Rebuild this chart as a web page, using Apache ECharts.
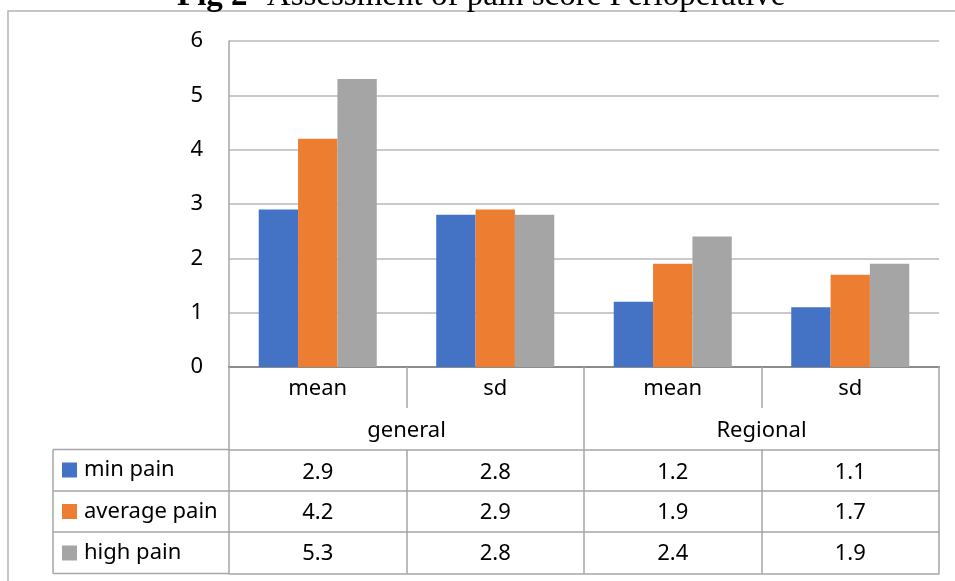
<!DOCTYPE html>
<html><head><meta charset="utf-8">
<script src="https://cdn.jsdelivr.net/npm/echarts@6/dist/echarts.min.js"></script>
<style>html,body{margin:0;padding:0;background:#fff}#c{width:955px;height:581px}</style>
</head><body><div id="c"></div>
<script>
const categories = ['mean', 'sd', 'mean', 'sd'];
const groups = ['general', 'Regional'];
const seriesNames = ['min pain', 'average pain', 'high pain'];
const minPain = [2.9, 2.8, 1.2, 1.1];
const averagePain = [4.2, 2.9, 1.9, 1.7];
const highPain = [5.3, 2.8, 2.4, 1.9];
const yTicks = [0, 1, 2, 3, 4, 5, 6];
const titleBold = 'Fig 2-';
const titleRest = ' Assessment of pain score Perioperative';

const colors = ['#4472C4', '#ED7D31', '#A5A5A5'];
const values = [minPain, averagePain, highPain];
const FONT = 'Noto Sans';
const FS = 22;
const LINE = '#a6a6a6';
const txt = { fontFamily: FONT, fontSize: FS, color: '#000', lineHeight: 22 };

const chart = echarts.init(document.getElementById('c'));

function rowAxis(data, offset, opts) {
  opts = opts || {};
  return {
    type: 'category', gridIndex: 0, position: 'bottom', offset: offset, data: data,
    axisLine: { show: opts.line !== false, lineStyle: { color: LINE, width: 1.5 } },
    axisTick: { show: opts.tick !== false, interval: 0, length: opts.tickLen || 41.5, lineStyle: { color: LINE, width: 1.5 } },
    axisLabel: Object.assign({ show: opts.label !== false, interval: 0, margin: opts.margin || 11 }, txt),
    splitLine: { show: false }
  };
}

const xAxes = [
  {
    type: 'category', data: categories, position: 'bottom',
    axisLine: { show: true, lineStyle: { color: '#8c8c8c', width: 2 } },
    axisTick: { show: true, interval: 0, length: 41, lineStyle: { color: LINE, width: 1.5 } },
    axisLabel: Object.assign({ interval: 0, margin: 11 }, txt),
    splitLine: { show: false }
  },
  rowAxis(groups, 41, { line: false, tickLen: 41.5, margin: 12 }),
  rowAxis(minPain.map(String), 82.5, { margin: 12.5 }),
  rowAxis(averagePain.map(String), 124),
  rowAxis(highPain.map(String), 165),
  rowAxis(categories, 206.5, { tick: false, label: false })
];

const tableLeft = 53, rowH = [449.5, 491, 532, 573.5];
const graphics = [
  { type: 'rect', shape: { x: 8, y: 11, width: 1000, height: 700 }, style: { fill: 'none', stroke: '#b4b4b4', lineWidth: 1.5 }, z: 0 },
  { type: 'line', shape: { x1: tableLeft, y1: rowH[0], x2: tableLeft, y2: rowH[3] }, style: { stroke: LINE, lineWidth: 1.5 } }
];
rowH.forEach(function (y) {
  graphics.push({ type: 'line', shape: { x1: tableLeft, y1: y, x2: 229, y2: y }, style: { stroke: LINE, lineWidth: 1.5 } });
});

chart.setOption({
  animation: false,
  title: {
    text: '{b|' + titleBold + '}' + titleRest,
    left: 177, top: -20, padding: 0,
    textStyle: {
      fontFamily: 'Liberation Serif', fontSize: 33, fontWeight: 'normal', color: '#000', lineHeight: 33,
      rich: { b: { fontFamily: 'Liberation Serif', fontSize: 33, fontWeight: 'bold', color: '#000', lineHeight: 33 } }
    }
  },
  legend: {
    data: seriesNames, orient: 'vertical', left: 62, top: 459, padding: 0,
    itemWidth: 15, itemHeight: 15, itemGap: 19.5, icon: 'rect', selectedMode: false,
    textStyle: { fontFamily: FONT, fontSize: FS, color: '#000', padding: [0, 0, 0, 2] }
  },
  grid: { left: 229, right: 16, top: 41, bottom: 214, containLabel: false },
  xAxis: xAxes,
  yAxis: {
    type: 'value', min: yTicks[0], max: yTicks[yTicks.length - 1], interval: 1,
    axisLine: { show: true, lineStyle: { color: LINE, width: 1.5 } },
    axisTick: { show: false },
    axisLabel: Object.assign({ margin: 26 }, txt),
    splitLine: { show: true, lineStyle: { color: '#b8b8b8', width: 1.5 } }
  },
  series: seriesNames.map(function (n, i) {
    return {
      name: n, type: 'bar', xAxisIndex: 0, data: values[i],
      barGap: '0%', barCategoryGap: '33.5%',
      itemStyle: { color: colors[i] }
    };
  }),
  graphic: graphics
});
</script>
</body></html>
